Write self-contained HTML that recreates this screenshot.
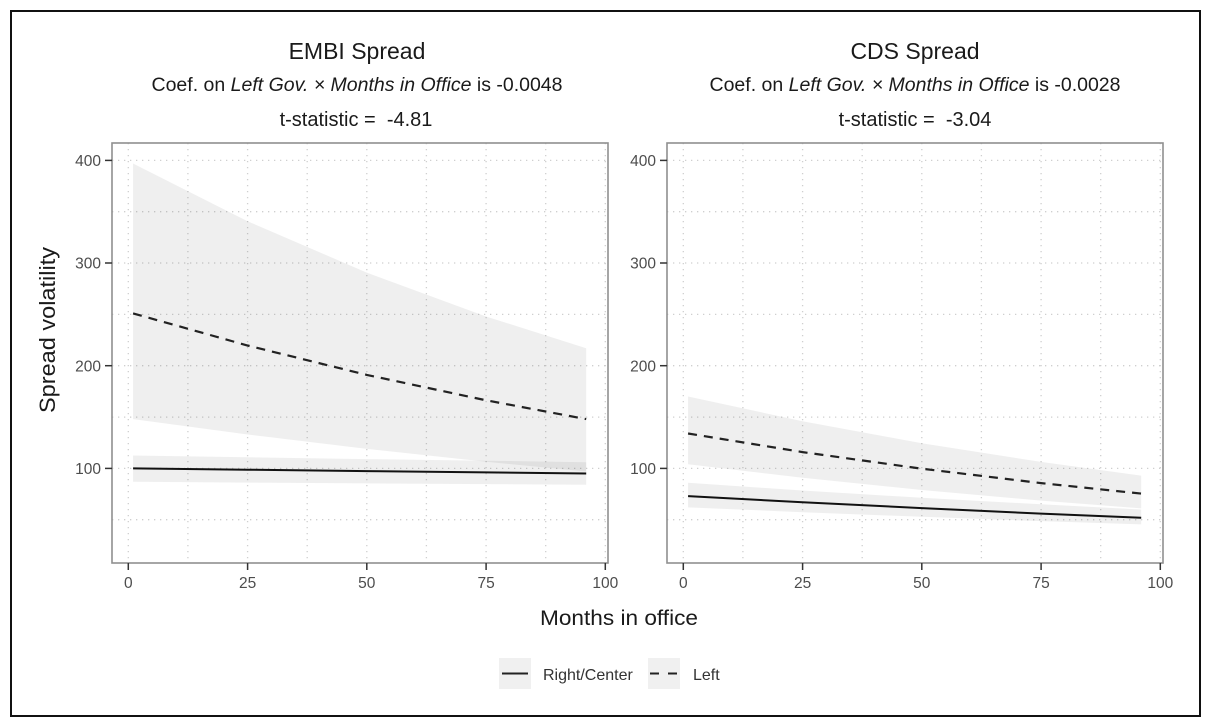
<!DOCTYPE html>
<html>
<head>
<meta charset="utf-8">
<style>
  html,body{margin:0;padding:0;background:#fff;}
  svg{display:block;}
  text{font-family:"Liberation Sans", Arial, sans-serif; white-space:pre;}
</style>
</head>
<body>
<svg width="1212" height="726" viewBox="0 0 1212 726" xmlns="http://www.w3.org/2000/svg">
  <rect x="0" y="0" width="1212" height="726" fill="#fff"/>
  <!-- outer frame -->
  <rect x="11" y="11" width="1189" height="705" fill="none" stroke="#111" stroke-width="2"/>

  <!-- ===== Titles left ===== -->
  <text x="357" y="59" font-size="23" text-anchor="middle" fill="#1a1a1a">EMBI Spread</text>
  <text x="357" y="91" font-size="19.5" text-anchor="middle" fill="#1a1a1a">Coef. on <tspan font-style="italic">Left Gov. × Months in Office</tspan> is -0.0048</text>
  <text x="356" y="126" font-size="20" text-anchor="middle" fill="#1a1a1a">t-statistic =  -4.81</text>

  <!-- ===== Titles right ===== -->
  <text x="915" y="59" font-size="23" text-anchor="middle" fill="#1a1a1a">CDS Spread</text>
  <text x="915" y="91" font-size="19.5" text-anchor="middle" fill="#1a1a1a">Coef. on <tspan font-style="italic">Left Gov. × Months in Office</tspan> is -0.0028</text>
  <text x="915" y="126" font-size="20" text-anchor="middle" fill="#1a1a1a">t-statistic =  -3.04</text>

  <!-- ===== LEFT PANEL ===== -->
  <g>
    <rect x="112" y="143" width="496" height="420" fill="#fff"/>
    <!-- grid -->
    <g stroke="#cfcfcf" stroke-width="1.3" stroke-dasharray="1.3 4.7" fill="none">
      <line x1="112" y1="519.7" x2="608" y2="519.7"/>
      <line x1="112" y1="468.4" x2="608" y2="468.4"/>
      <line x1="112" y1="417.1" x2="608" y2="417.1"/>
      <line x1="112" y1="365.7" x2="608" y2="365.7"/>
      <line x1="112" y1="314.4" x2="608" y2="314.4"/>
      <line x1="112" y1="263" x2="608" y2="263"/>
      <line x1="112" y1="211.7" x2="608" y2="211.7"/>
      <line x1="112" y1="160.4" x2="608" y2="160.4"/>
      <line x1="128.3" y1="143" x2="128.3" y2="563"/>
      <line x1="187.9" y1="143" x2="187.9" y2="563"/>
      <line x1="247.6" y1="143" x2="247.6" y2="563"/>
      <line x1="307.2" y1="143" x2="307.2" y2="563"/>
      <line x1="366.8" y1="143" x2="366.8" y2="563"/>
      <line x1="426.4" y1="143" x2="426.4" y2="563"/>
      <line x1="486.1" y1="143" x2="486.1" y2="563"/>
      <line x1="545.7" y1="143" x2="545.7" y2="563"/>
      <line x1="605.3" y1="143" x2="605.3" y2="563"/>
    </g>
    <!-- ribbons -->
    <path d="M133.07,163.5 L247.55,221.2 L366.8,272.6 L486.05,316.45 L586.2,348.3 L586.2,471.5 L486.05,461.7 L366.8,448.9 L247.55,434.5 L133.07,419.1 Z" fill="#000" fill-opacity="0.062"/>
    <path d="M133.07,455.5 L247.55,457.3 L366.8,459.1 L486.05,460.7 L586.2,462.2 L586.2,484.8 L486.05,484.1 L366.8,483.4 L247.55,482.6 L133.07,481.7 Z" fill="#000" fill-opacity="0.062"/>
    <!-- lines -->
    <polyline points="133.07,468.4 247.55,469.7 366.8,471.1 486.05,472.4 586.2,473.5" fill="none" stroke="#111" stroke-width="2"/>
    <polyline points="133.07,313.4 247.55,345.5 366.8,374.9 486.05,400.3 586.2,419.1" fill="none" stroke="#222" stroke-width="2.2" stroke-dasharray="9 7"/>
    <!-- border -->
    <rect x="112" y="143" width="496" height="420" fill="none" stroke="#8f8f8f" stroke-width="1.6"/>
    <!-- ticks -->
    <g stroke="#333" stroke-width="1.5">
      <line x1="105" y1="160.4" x2="112" y2="160.4"/>
      <line x1="105" y1="263" x2="112" y2="263"/>
      <line x1="105" y1="365.7" x2="112" y2="365.7"/>
      <line x1="105" y1="468.4" x2="112" y2="468.4"/>
      <line x1="128.3" y1="563" x2="128.3" y2="570"/>
      <line x1="247.6" y1="563" x2="247.6" y2="570"/>
      <line x1="366.8" y1="563" x2="366.8" y2="570"/>
      <line x1="486.1" y1="563" x2="486.1" y2="570"/>
      <line x1="605.3" y1="563" x2="605.3" y2="570"/>
    </g>
    <g font-size="15.5" fill="#4d4d4d">
      <text x="101" y="166" text-anchor="end">400</text>
      <text x="101" y="268.6" text-anchor="end">300</text>
      <text x="101" y="371.3" text-anchor="end">200</text>
      <text x="101" y="474" text-anchor="end">100</text>
      <text x="128.3" y="588" text-anchor="middle">0</text>
      <text x="247.6" y="588" text-anchor="middle">25</text>
      <text x="366.8" y="588" text-anchor="middle">50</text>
      <text x="486.1" y="588" text-anchor="middle">75</text>
      <text x="605.3" y="588" text-anchor="middle">100</text>
    </g>
  </g>

  <!-- ===== RIGHT PANEL ===== -->
  <g>
    <rect x="667" y="143" width="496" height="420" fill="#fff"/>
    <g stroke="#cfcfcf" stroke-width="1.3" stroke-dasharray="1.3 4.7" fill="none">
      <line x1="667" y1="519.7" x2="1163" y2="519.7"/>
      <line x1="667" y1="468.4" x2="1163" y2="468.4"/>
      <line x1="667" y1="417.1" x2="1163" y2="417.1"/>
      <line x1="667" y1="365.7" x2="1163" y2="365.7"/>
      <line x1="667" y1="314.4" x2="1163" y2="314.4"/>
      <line x1="667" y1="263" x2="1163" y2="263"/>
      <line x1="667" y1="211.7" x2="1163" y2="211.7"/>
      <line x1="667" y1="160.4" x2="1163" y2="160.4"/>
      <line x1="683.3" y1="143" x2="683.3" y2="563"/>
      <line x1="742.9" y1="143" x2="742.9" y2="563"/>
      <line x1="802.6" y1="143" x2="802.6" y2="563"/>
      <line x1="862.2" y1="143" x2="862.2" y2="563"/>
      <line x1="921.8" y1="143" x2="921.8" y2="563"/>
      <line x1="981.4" y1="143" x2="981.4" y2="563"/>
      <line x1="1041.1" y1="143" x2="1041.1" y2="563"/>
      <line x1="1100.7" y1="143" x2="1100.7" y2="563"/>
      <line x1="1160.3" y1="143" x2="1160.3" y2="563"/>
    </g>
    <path d="M688.07,396.5 L802.55,421.2 L921.8,443.2 L1041.05,461.9 L1141.2,475.6 L1141.2,508.4 L1041.05,500.6 L921.8,490.0 L802.55,477.7 L688.07,464.3 Z" fill="#000" fill-opacity="0.062"/>
    <path d="M688.07,482.8 L802.55,490.5 L921.8,497.8 L1041.05,504.3 L1141.2,509.5 L1141.2,524.4 L1041.05,521.1 L921.8,516.8 L802.55,512.2 L688.07,507.4 Z" fill="#000" fill-opacity="0.062"/>
    <polyline points="688.07,496.1 802.55,502.3 921.8,508.1 1041.05,513.6 1141.2,517.7" fill="none" stroke="#111" stroke-width="2"/>
    <polyline points="688.07,433.5 802.55,452.1 921.8,468.7 1041.05,483.1 1141.2,493.6" fill="none" stroke="#222" stroke-width="2.2" stroke-dasharray="9 7"/>
    <rect x="667" y="143" width="496" height="420" fill="none" stroke="#8f8f8f" stroke-width="1.6"/>
    <g stroke="#333" stroke-width="1.5">
      <line x1="660" y1="160.4" x2="667" y2="160.4"/>
      <line x1="660" y1="263" x2="667" y2="263"/>
      <line x1="660" y1="365.7" x2="667" y2="365.7"/>
      <line x1="660" y1="468.4" x2="667" y2="468.4"/>
      <line x1="683.3" y1="563" x2="683.3" y2="570"/>
      <line x1="802.6" y1="563" x2="802.6" y2="570"/>
      <line x1="921.8" y1="563" x2="921.8" y2="570"/>
      <line x1="1041.1" y1="563" x2="1041.1" y2="570"/>
      <line x1="1160.3" y1="563" x2="1160.3" y2="570"/>
    </g>
    <g font-size="15.5" fill="#4d4d4d">
      <text x="656" y="166" text-anchor="end">400</text>
      <text x="656" y="268.6" text-anchor="end">300</text>
      <text x="656" y="371.3" text-anchor="end">200</text>
      <text x="656" y="474" text-anchor="end">100</text>
      <text x="683.3" y="588" text-anchor="middle">0</text>
      <text x="802.6" y="588" text-anchor="middle">25</text>
      <text x="921.8" y="588" text-anchor="middle">50</text>
      <text x="1041.1" y="588" text-anchor="middle">75</text>
      <text x="1160.3" y="588" text-anchor="middle">100</text>
    </g>
  </g>

  <!-- axis titles -->
  <text transform="translate(55,330) rotate(-90)" font-size="22" text-anchor="middle" fill="#1a1a1a" textLength="166" lengthAdjust="spacingAndGlyphs">Spread volatility</text>
  <text x="619" y="625" font-size="21" text-anchor="middle" fill="#1a1a1a" textLength="158" lengthAdjust="spacingAndGlyphs">Months in office</text>

  <!-- legend -->
  <rect x="499" y="658" width="32" height="31" fill="#f0f0f0"/>
  <line x1="502" y1="673.5" x2="528" y2="673.5" stroke="#222" stroke-width="2"/>
  <text x="543" y="680" font-size="16" fill="#333">Right/Center</text>
  <rect x="648" y="658" width="32" height="31" fill="#f0f0f0"/>
  <line x1="650" y1="673.5" x2="659" y2="673.5" stroke="#222" stroke-width="2"/>
  <line x1="668" y1="673.5" x2="677" y2="673.5" stroke="#222" stroke-width="2"/>
  <text x="693" y="680" font-size="16" fill="#333">Left</text>
</svg>
</body>
</html>
